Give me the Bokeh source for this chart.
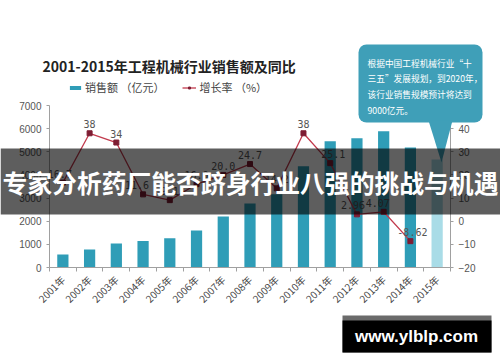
import math
from bokeh.plotting import figure
from bokeh.models import (ColumnDataSource, Range1d, LinearAxis, FixedTicker, Label,
                          Legend, LegendItem, PolyAnnotation, BoxAnnotation, CustomJSTickFormatter)
from bokeh.embed import file_html
from bokeh.resources import INLINE
from bokeh.core.properties import value

# ---------------- data ----------------
years = ["2001年", "2002年", "2003年", "2004年", "2005年", "2006年", "2007年", "2008年",
         "2009年", "2010年", "2011年", "2012年", "2013年", "2014年", "2015年"]
sales = [560, 780, 1040, 1140, 1260, 1600, 2200, 2770, 3170, 4370, 5450, 5580, 5890, 5190, 4670]
growth = [16.7, 38, 34, 11.6, 9.1, 16.0, 20.0, 24.7, 14.2, 38, 25.1, 2.96, 4.07, -8.62]
growth_labels = ["16.7", "38", "34", "11.6", "9.1", "16.0", "20.0", "24.7", "14.2", "38",
                 "25.1", "2.96", "4.07", "-8.62"]
left_ticks = [0, 1000, 2000, 3000, 4000, 5000, 6000, 7000]
right_ticks = [-20, -10, 0, 10, 20, 30, 40, 50]

title_text = "2001-2015年工程机械行业销售额及同比"
legend_labels = ["销售额 （亿元）", "增长率 （%）"]
bubble_lines = ["根据中国工程机械行业“十", "三五”发展规划，到2020年，",
                "该行业销售规模预计将达到", "9000亿元。"]
banner_text = "专家分析药厂能否跻身行业八强的挑战与机遇"
site_text = "www.ylblp.com"

# ---------------- layout (page pixels) ----------------
W, H = 500, 362
FL, FR, FT, FB = 49, 450, 105, 267   # plotting area of the chart

CJK = "Noto Sans CJK SC"
TEAL = "#2f9db7"
LIGHT = "#a9dce7"
BUBBLE = "#3f9fb8"
AXIS = "#a0a0a0"

n = len(years)
PX = (FR - FL) / n
PY = (FB - FT) / (left_ticks[-1] - left_ticks[0])
PR = (FB - FT) / (right_ticks[-1] - right_ticks[0])
x_rng = Range1d(-FL / PX, n + (W - FR) / PX)
y_rng = Range1d(left_ticks[0] - (H - FB) / PY, left_ticks[-1] + FT / PY)
r_rng = Range1d(right_ticks[0] - (H - FB) / PR, right_ticks[-1] + FT / PR)


def sx(px):
    return px


def sy(py):
    return H - py


xs = [i + 0.5 for i in range(n)]
bar_colors = [TEAL] * (n - 1) + [LIGHT]
label_dx = [-3, 0, 0, -6, 0, 0, 0, 0, 0, 0, 3, -4, -6, 2]

bar_src = ColumnDataSource(dict(x=xs, top=sales, color=bar_colors))
line_src = ColumnDataSource(dict(x=xs[:len(growth)], y=growth, lab=growth_labels, dx=label_dx))

p = figure(width=W, height=H, output_backend="svg", toolbar_location=None, title=None,
           x_range=x_rng, y_range=y_rng, x_axis_location=None, y_axis_location=None,
           min_border=0)
p.extra_y_ranges = {"rate": r_rng}
p.outline_line_color = None
p.background_fill_color = "white"
p.border_fill_color = "white"
for g in p.grid:
    g.visible = False

# x axis
xa = LinearAxis(fixed_location=left_ticks[0], bounds=(0, n),
                ticker=FixedTicker(ticks=xs, minor_ticks=list(range(n + 1))),
                formatter=CustomJSTickFormatter(args=dict(labels=years),
                                                code="return labels[Math.floor(tick)] || '';"))
xa.major_label_orientation = math.pi / 4
xa.major_tick_line_color = None
xa.major_tick_out = 0
xa.major_tick_in = 0
xa.minor_tick_out = 4
xa.minor_tick_in = 0
xa.minor_tick_line_color = AXIS
xa.axis_line_color = AXIS
xa.major_label_text_font = CJK
xa.major_label_text_font_size = "10px"
xa.major_label_text_color = "#444444"
xa.major_label_standoff = 6
p.add_layout(xa, "below")

# left axis
ya = LinearAxis(fixed_location=0, bounds=(left_ticks[0], left_ticks[-1]),
                ticker=FixedTicker(ticks=left_ticks))
ya.axis_line_color = AXIS
ya.major_tick_line_color = AXIS
ya.major_tick_out = 3
ya.major_tick_in = 0
ya.minor_tick_line_color = None
ya.major_label_text_font = "Liberation Sans"
ya.major_label_text_font_size = "10px"
ya.major_label_text_color = "#555555"
ya.major_label_standoff = 5
p.add_layout(ya, "left")

# right axis
ra = LinearAxis(y_range_name="rate", fixed_location=n,
                bounds=(right_ticks[0], right_ticks[-1]), ticker=FixedTicker(ticks=right_ticks))
ra.axis_line_color = AXIS
ra.major_tick_line_color = AXIS
ra.major_tick_out = 3
ra.major_tick_in = 0
ra.minor_tick_line_color = None
ra.major_label_text_font = "Liberation Sans"
ra.major_label_text_font_size = "10px"
ra.major_label_text_color = "#555555"
ra.major_label_standoff = 5
p.add_layout(ra, "right")

# bars
bars = p.vbar(x="x", top="top", bottom=0, width=0.42, fill_color="color",
              line_color=None, source=bar_src)

# growth line
line_r = p.line(x="x", y="y", y_range_name="rate", line_color="#c23a4d", line_width=1.3,
                source=line_src)
pts = p.scatter(x="x", y="y", y_range_name="rate", marker="square", size=5,
                fill_color="#7e1d33", line_color="#7e1d33", source=line_src)
p.text(x="x", y="y", text="lab", y_range_name="rate", x_offset="dx", y_offset=-5,
       text_align="center", text_baseline="bottom", text_font=value("DejaVu Sans Mono"),
       text_font_size="10px", text_color="#555555", source=line_src)

# legend
legend = Legend(items=[LegendItem(label=legend_labels[0], renderers=[bars]),
                       LegendItem(label=legend_labels[1], renderers=[line_r, pts])],
                orientation="horizontal", location=(sx(68), sy(95)),
                border_line_color=None, background_fill_alpha=0, padding=0, margin=0,
                spacing=18, glyph_width=14, glyph_height=5, label_standoff=3,
                label_text_font=CJK, label_text_font_size="11px",
                label_text_color="#444444", label_height=12)
p.add_layout(legend)

# title
p.add_layout(Label(x=sx(42), y=sy(65), x_units="screen", y_units="screen", text=title_text,
                   text_font=CJK, text_font_size="14px", text_font_style="bold",
                   text_color="#222222", text_baseline="middle", text_align="left"))

# bubble
p.add_layout(BoxAnnotation(left=sx(358), right=sx(482), top=sy(44), bottom=sy(122),
                           left_units="screen", right_units="screen",
                           top_units="screen", bottom_units="screen",
                           fill_color=BUBBLE, fill_alpha=1, line_color=None,
                           border_radius=8))
p.add_layout(PolyAnnotation(xs=[sx(428), sx(452), sx(441)], ys=[sy(120), sy(120), sy(162)],
                            xs_units="screen", ys_units="screen",
                            fill_color=BUBBLE, fill_alpha=1, line_color=None))
for k, line in enumerate(bubble_lines):
    p.add_layout(Label(x=sx(367), y=sy(62.5 + 15.7 * k), x_units="screen", y_units="screen",
                       text=line, text_font=CJK, text_font_size="8.7px", text_color="white",
                       text_baseline="middle", text_align="left"))

# banner
p.add_layout(BoxAnnotation(left=sx(0), right=sx(W), top=sy(148), bottom=sy(214),
                           left_units="screen", right_units="screen",
                           top_units="screen", bottom_units="screen",
                           fill_color="black", fill_alpha=0.63, line_color=None,
                           level="overlay"))
p.add_layout(Label(x=sx(2), y=sy(181), x_units="screen", y_units="screen", text=banner_text,
                   text_font=CJK, text_font_size="24.8px", text_font_style="bold",
                   text_color="white", text_baseline="middle", text_align="left",
                   level="overlay"))

# site box
p.add_layout(BoxAnnotation(left=sx(342), right=sx(491), top=sy(315), bottom=sy(352),
                           left_units="screen", right_units="screen",
                           top_units="screen", bottom_units="screen",
                           fill_color="#6b6b6b", fill_alpha=1, line_color=None, level="overlay"))
p.add_layout(BoxAnnotation(left=sx(342), right=sx(491), top=sy(320), bottom=sy(352),
                           left_units="screen", right_units="screen",
                           top_units="screen", bottom_units="screen",
                           fill_color="black", fill_alpha=1, line_color=None, level="overlay"))
p.add_layout(Label(x=sx(416), y=sy(336), x_units="screen", y_units="screen", text=site_text,
                   text_font="Liberation Sans", text_font_size="17px", text_font_style="bold",
                   text_color="white", text_baseline="middle", text_align="center",
                   level="overlay"))

open("out.html", "w").write(file_html(p, INLINE))
